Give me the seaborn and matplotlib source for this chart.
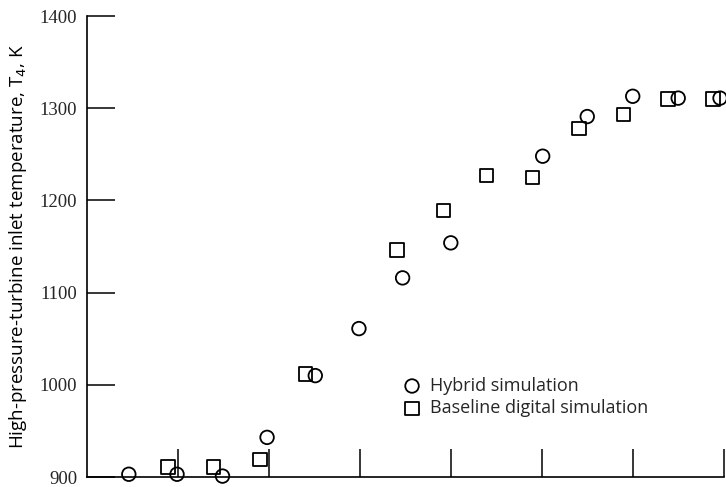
import matplotlib
matplotlib.use("Agg")
import matplotlib.pyplot as plt
import seaborn as sns
import pandas as pd

# Hybrid simulation readings
hybrid_x = [0.46, 0.99, 1.49, 1.98, 2.51, 2.99, 3.47, 4.00, 5.01, 5.50, 6.00, 6.50, 6.96]
hybrid_t4 = [903, 903, 901, 943, 1010, 1061, 1116, 1154, 1248, 1291, 1313, 1311, 1311]

# Baseline digital simulation readings
baseline_x = [0.89, 1.39, 1.90, 2.40, 3.41, 3.92, 4.39, 4.90, 5.41, 5.90, 6.39, 6.88]
baseline_t4 = [911, 911, 919, 1012, 1146, 1189, 1227, 1225, 1278, 1293, 1310, 1310]

y_ticks = [900, 1000, 1100, 1200, 1300, 1400]
x_ticks = [1, 2, 3, 4, 5, 6, 7]

hybrid = pd.DataFrame({"x": hybrid_x, "T4": hybrid_t4})
baseline = pd.DataFrame({"x": baseline_x, "T4": baseline_t4})

sns.set_theme(style="ticks")
plt.rcParams["font.family"] = ["Open Sans", "DejaVu Sans"]

fig = plt.figure(figsize=(7.26, 4.87), dpi=100)
ax = fig.add_axes([0.1198, 0.0205, 0.877, 0.9465])

marker_kw = dict(s=95, facecolors="none", edgecolor="black", linewidth=1.3,
                 clip_on=False, zorder=3)
sns.scatterplot(data=hybrid, x="x", y="T4", marker="o", ax=ax,
                label="Hybrid simulation", **marker_kw)
sns.scatterplot(data=baseline, x="x", y="T4", marker="s", ax=ax,
                label="Baseline digital simulation", **marker_kw)

ax.set_xlim(0, 7.0)
ax.set_ylim(900, 1400)
ax.set_xticks(x_ticks)
ax.set_xticklabels([])
ax.set_yticks(y_ticks)
ax.set_yticklabels([str(v) for v in y_ticks], family="Liberation Serif", fontsize=13.5)
ax.tick_params(axis="both", direction="in", length=20, width=1.1, color="black")
ax.tick_params(axis="y", pad=7)

for side in ("top", "right"):
    ax.spines[side].set_visible(False)
for side in ("left", "bottom"):
    ax.spines[side].set_color("black")
    ax.spines[side].set_linewidth(1.2)

ax.set_xlabel("")
ax.set_ylabel("High-pressure-turbine inlet temperature, T$_4$, K", fontsize=13.5,
              labelpad=8, color="black")

leg = ax.legend(loc="lower left", bbox_to_anchor=(0.485, 0.114), frameon=False,
                fontsize=13, handlelength=1.0, handletextpad=0.5,
                labelspacing=0.25, borderaxespad=0)
for h in leg.legend_handles:
    h.set_facecolor("none")
    h.set_edgecolor("black")

fig.savefig("out.png", dpi=100)
